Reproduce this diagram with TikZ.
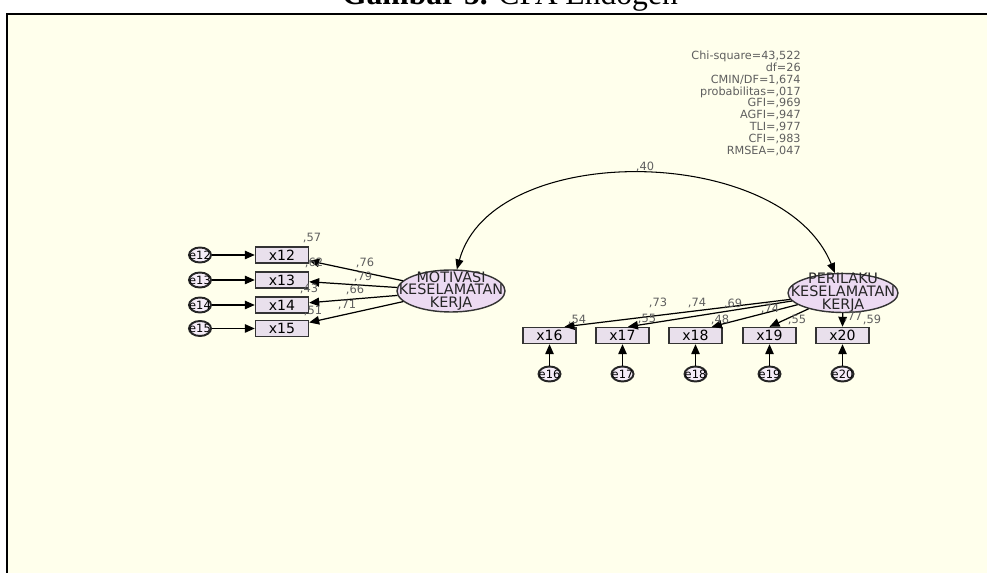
\documentclass[tikz,border=0pt]{standalone}
\usepackage{fontspec}
\setmainfont{Liberation Serif}
\newfontfamily\amosfont{DejaVu Sans}
\usetikzlibrary{arrows.meta,calc,shapes.geometric}

\definecolor{paper}{RGB}{255,255,236}
\definecolor{obsfill}{RGB}{233,224,236}
\definecolor{latfill}{RGB}{236,218,242}
\definecolor{estgray}{RGB}{95,95,95}

\begin{document}
\begin{tikzpicture}[x=0.02cm, y=-0.02cm,
  obs/.style    ={draw=black!80, line width=0.8pt, fill=obsfill, minimum width=10.6mm,
                  minimum height=3.2mm, inner sep=0pt,
                  font=\amosfont\fontsize{8}{8}\selectfont},
  lat/.style    ={draw=black!80, line width=0.8pt, ellipse, fill=latfill, inner sep=0pt},
  lattext/.style={align=center, inner sep=0pt, text=black!85,
                  font=\amosfont\fontsize{8.2}{7.3}\selectfont},
  err/.style    ={draw=black!85, line width=1.1pt, ellipse, fill=latfill!50,
                  minimum width=4.4mm, minimum height=3mm, inner sep=0pt,
                  font=\amosfont\fontsize{6.5}{6.5}\selectfont},
  est/.style    ={inner sep=0pt, text=estgray, font=\amosfont\fontsize{6.5}{6.5}\selectfont},
  fit/.style    ={align=right, inner sep=0pt, text=estgray,
                  font=\amosfont\fontsize{6.4}{6.7}\selectfont},
  arr/.style    ={-{Triangle[length=2mm, width=1.7mm]}, line width=0.7pt},
  cov/.style    ={{Triangle[length=2mm, width=1.6mm]}-{Triangle[length=2mm, width=1.6mm]},
                  line width=0.6pt},
]
\clip (0,0) rectangle (987,573);

% ============================ page and frame ================================
\node[anchor=base, font=\fontsize{18}{18}\selectfont] (title) at (510,5)
     {\textbf{Gambar 5.} CFA Endogen};
\draw[line width=1.4pt, fill=paper] (7,14) rectangle (1010,600);

% ============================ fit indices ===================================
\node[fit, anchor=north east] (fitidx) at (801,51)
     {Chi-square=43,522\\df=26\\CMIN/DF=1,674\\probabilitas=,017\\GFI=,969\\
      AGFI=,947\\TLI=,977\\CFI=,983\\RMSEA=,047};

% ============================ latent factors ================================
\node[lat, minimum width=21.6mm, minimum height=8.4mm] (mot) at (451,291) {};
\node[lattext] (mottxt) at (mot) {MOTIVASI\\KESELAMATAN\\KERJA};
\node[lat, minimum width=22mm, minimum height=7.8mm] (per) at (843,293) {};
\node[lattext] (pertxt) at (per) {PERILAKU\\KESELAMATAN\\KERJA};

\coordinate (c1) at (492,140);
\coordinate (c2) at (782,143);
\draw[cov] (mot) .. controls (c1) and (c2) .. (per);
\node[est] (r40) at (645,167) {,40};

% ============================ motivasi indicators ===========================
\foreach \n/\y in {12/255, 13/280, 14/305, 15/328.5} {
  \node[obs] (x\n) at (282,\y) {x\n};
  \node[err] (e\n) at (200,\y) {\makebox[0pt]{e\n}};
  \draw[arr] (e\n) -- (x\n);
  \draw[arr] (mot) -- (x\n);
}
\node[est] (s12) at (312,238) {,57};
\node[est] (s13) at (314,263) {,62};
\node[est] (s14) at (309,289) {,43};
\node[est] (s15) at (313,311) {,51};
\node[est] (l12) at (365,263) {,76};
\node[est] (l13) at (363,277) {,79};
\node[est] (l14) at (355,290) {,66};
\node[est] (l15) at (347,305) {,71};

% ============================ perilaku indicators ===========================
\foreach \n/\x in {16/549.5, 17/622.5, 18/695.5, 19/769.5, 20/842.5} {
  \node[obs] (x\n) at (\x,335.5) {x\n};
  \node[err] (e\n) at (\x,374) {\makebox[0pt]{e\n}};
  \draw[arr] (e\n) -- (x\n);
}
\draw[arr] (per) -- ($(x16.north)!0.55!(x16.north east)$);
\draw[arr] (per) -- ($(x17.north)!0.2!(x17.north east)$);
\draw[arr] (per) -- ($(x18.north)!0.6!(x18.north east)$);
\draw[arr] (per) -- (x19.north);
\draw[arr] (per) -- (x20.north);
\node[est] (l16) at (658,303) {,73};
\node[est] (l17) at (697,303) {,74};
\node[est] (l18) at (733,304) {,69};
\node[est] (l19) at (770,309) {,74};
\node[est] (l20) at (853,317) {,77};
\node[est] (s16) at (577,320) {,54};
\node[est] (s17) at (647,319) {,55};
\node[est] (s18) at (720,320) {,48};
\node[est] (s19) at (797,320) {,55};
\node[est] (s20) at (872,320) {,59};

\end{tikzpicture}
\end{document}
